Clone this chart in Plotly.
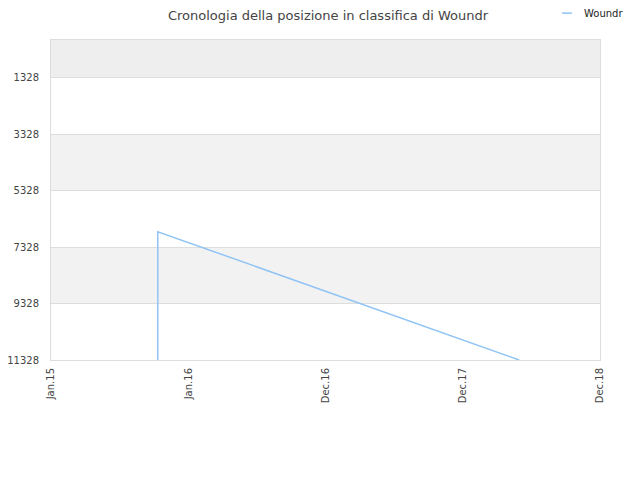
import plotly.graph_objects as go

# rank history (lower number = better position)
dates = ["2015-10-12", "2015-10-12", "2018-05-30"]
ranks = [11328, 6786, 11328]

tick_dates = ["2015-01-01", "2016-01-01", "2016-12-31", "2017-12-31", "2018-12-31"]
tick_text = ["Jan.15", "Jan.16", "Dec.16", "Dec.17", "Dec.18"]
y_ticks = [1328, 3328, 5328, 7328, 9328, 11328]

fig = go.Figure()
fig.add_trace(go.Scatter(
    x=dates, y=ranks, mode="lines", name="Woundr",
    line=dict(color="#90c4f5", width=1.5), showlegend=False,
))

# alternating grey bands between grid lines
bands = [(0, y_ticks[0], "#eeeeee"), (y_ticks[1], y_ticks[2], "#f2f2f2"),
         (y_ticks[3], y_ticks[4], "#f2f2f2")]
for y0, y1, col in bands:
    fig.add_shape(type="rect", xref="paper", yref="y", x0=0, x1=1, y0=y0, y1=y1,
                  fillcolor=col, line_width=0, layer="below")

# small legend in the top right corner
fig.add_shape(type="line", xref="paper", yref="paper", x0=0.931, x1=0.949,
              y0=1.084, y1=1.084, line=dict(color="#90c4f5", width=1.5))
fig.add_annotation(text="Woundr", xref="paper", yref="paper", x=0.967, y=1.084,
                   xanchor="left", yanchor="middle", showarrow=False,
                   font=dict(size=10, color="#222222"))

fig.update_layout(
    width=640, height=480,
    margin=dict(l=43, r=48, t=32, b=128, autoexpand=False),
    paper_bgcolor="white", plot_bgcolor="white",
    font=dict(family="DejaVu Sans", size=11, color="#444444"),
    title=dict(text="Cronologia della posizione in classifica di Woundr",
               x=0.5, xanchor="center", y=0.984, yanchor="middle",
               font=dict(size=13, color="#444444")),
    xaxis=dict(
        type="date", range=[tick_dates[0], tick_dates[-1]],
        tickvals=tick_dates, ticktext=tick_text, tickangle=-90,
        showgrid=False, showline=True, linecolor="#dddddd", mirror=True,
        ticks="", tickfont=dict(size=10), zeroline=False, ticklabelstandoff=3,
    ),
    yaxis=dict(
        range=[11328, 0], tickvals=y_ticks, ticktext=[str(v) for v in y_ticks],
        showgrid=True, gridcolor="#dddddd", showline=True, linecolor="#dddddd",
        mirror=True, ticks="", tickfont=dict(size=10), zeroline=False,
        ticklabelstandoff=9,
    ),
)

fig.write_html("out.html")
